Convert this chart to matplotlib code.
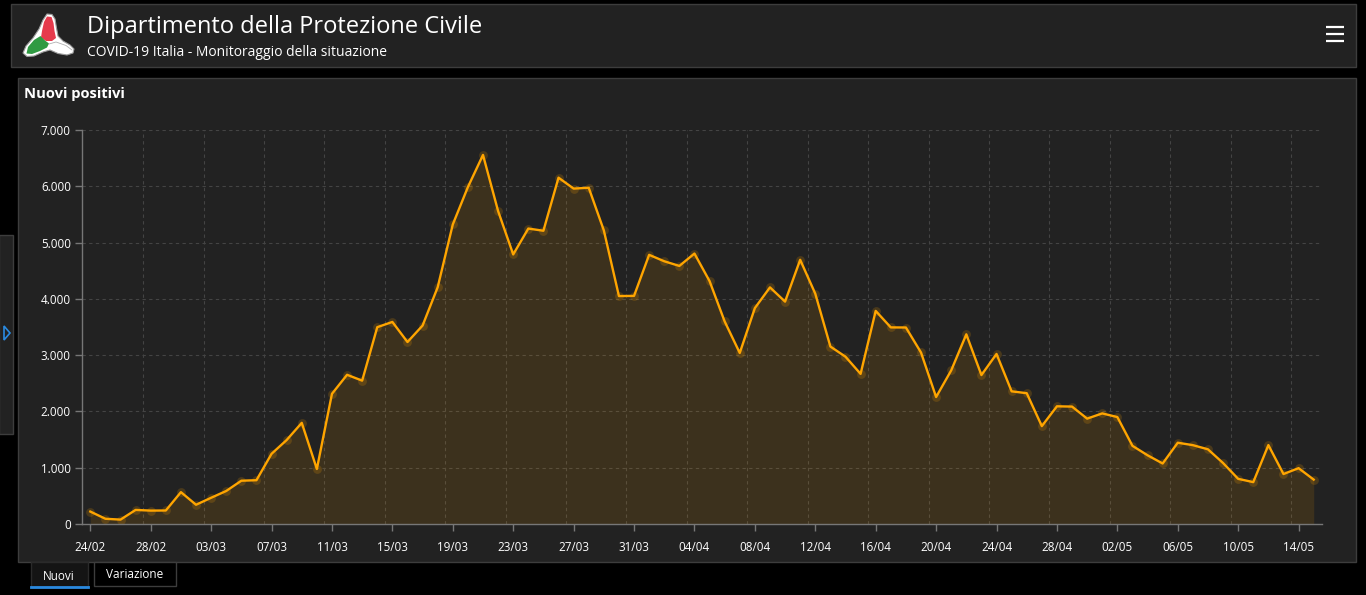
import matplotlib
matplotlib.use("Agg")
import matplotlib.pyplot as plt
from matplotlib.patches import Rectangle, Polygon
from matplotlib.ticker import FuncFormatter
import numpy as np
import datetime as dt

plt.rcParams['font.family'] = ['Open Sans', 'DejaVu Sans']

# ---------------- data ----------------
start_date = dt.date(2020, 2, 24)
nuovi_positivi = [
    221, 93, 78, 250, 238, 240, 566, 342, 466, 587, 769, 778, 1247, 1492, 1797, 977,
    2313, 2651, 2547, 3497, 3590, 3233, 3526, 4207, 5322, 5986, 6557, 5560, 4789, 5249,
    5210, 6153, 5959, 5974, 5217, 4050, 4053, 4782, 4668, 4585, 4805, 4316, 3599, 3039,
    3836, 4204, 3951, 4694, 4092, 3153, 2972, 2667, 3786, 3493, 3491, 3047, 2256, 2729,
    3370, 2646, 3021, 2357, 2324, 1739, 2091, 2086, 1872, 1965, 1900, 1389, 1221, 1075,
    1444, 1401, 1327, 1083, 802, 744, 1402, 888, 992, 789,
]
y_ticks = [0, 1000, 2000, 3000, 4000, 5000, 6000, 7000]
title = "Dipartimento della Protezione Civile"
subtitle = "COVID-19 Italia - Monitoraggio della situazione"
chart_title = "Nuovi positivi"
tab_labels = ["Nuovi", "Variazione"]

days = np.arange(len(nuovi_positivi))
dates = [start_date + dt.timedelta(days=int(d)) for d in days]
x_tick_pos = days[::4]
x_tick_labels = [dates[i].strftime("%d/%m") for i in x_tick_pos]

W, H = 1366, 595
fig = plt.figure(figsize=(W / 100, H / 100), dpi=100, facecolor="black")

# ---------------- background / page chrome ----------------
bg = fig.add_axes([0, 0, 1, 1])
bg.set_xlim(0, W)
bg.set_ylim(H, 0)
bg.axis("off")
bg.set_facecolor("black")

panel_fc = "#222222"
panel_ec = "#3d3d3d"
bg.add_patch(Rectangle((10.5, 3.5), 1345, 63, facecolor=panel_fc, edgecolor=panel_ec, lw=1))
bg.add_patch(Rectangle((17.5, 77.5), 1338, 484, facecolor=panel_fc, edgecolor=panel_ec, lw=1))
# left drawer tab
bg.add_patch(Rectangle((-1, 234.5), 14, 199, facecolor=panel_fc, edgecolor=panel_ec, lw=1))
bg.add_patch(Polygon([(4, 326), (10, 333), (4, 340)], closed=True, fill=False,
                     edgecolor="#2a8ae0", lw=1.2))

# logo (three-lobed emblem: red top, green lower-left, white lower-right)
outline = [(47, 14), (52, 14.5), (55, 19), (56.5, 28), (58, 36), (63, 41), (70, 45),
           (74, 49), (73, 53), (67, 55), (58, 53.5), (50, 50), (43, 52), (34, 56),
           (27, 56.5), (23, 53), (26, 46), (33, 38), (39, 29), (43, 20)]
bg.add_patch(Polygon(outline, closed=True, facecolor="white", edgecolor="#9a9a9a", lw=0.8))
red = [(47, 16.5), (51.5, 17), (53.5, 23), (54.5, 31), (56, 38), (52, 41), (46, 41),
       (41, 37.5), (42, 31), (44, 22)]
bg.add_patch(Polygon(red, closed=True, facecolor="#e63a4c", edgecolor="none"))
green = [(40.5, 36), (45, 40.5), (49, 43.5), (47, 47.5), (40, 51), (32, 54), (26.5, 53.5),
         (28, 47), (34, 40)]
bg.add_patch(Polygon(green, closed=True, facecolor="#2f9a42", edgecolor="none"))
bg.plot([49, 56, 66, 72], [44, 42, 45.5, 50], color="#b0b0b0", lw=0.6)

bg.text(87, 33, title, color="white", fontsize=17, va="baseline", ha="left")
bg.text(87, 56, subtitle, color="white", fontsize=10, va="baseline", ha="left")
bg.text(24, 98, chart_title, color="white", fontsize=10.6, fontweight="bold",
        va="baseline", ha="left")

# hamburger
for yy in (27, 34, 41):
    bg.plot([1326, 1344], [yy, yy], color="white", lw=1.6, solid_capstyle="butt")

# bottom tabs
bg.add_patch(Rectangle((30.5, 562), 57, 25, facecolor="#141414", edgecolor="#2a2a2a", lw=1))
bg.plot([30.5, 87.5], [587, 587], color="#2a8ae0", lw=2)
bg.text(59, 576, tab_labels[0], color="white", fontsize=8.5, ha="center", va="center")
bg.add_patch(Rectangle((93.5, 562), 82, 24, facecolor="black", edgecolor="#3d3d3d", lw=1))
bg.text(134.5, 575, tab_labels[1], color="white", fontsize=8.5, ha="center", va="center")

# ---------------- chart ----------------
left, right, top, bottom = 82, 1322, 130, 524
ax = fig.add_axes([left / W, 1 - bottom / H, (right - left) / W, (bottom - top) / H])
ax.set_facecolor("none")

line_color = "#ffa500"
ax.fill_between(days, nuovi_positivi, 0, color=line_color, alpha=0.12, lw=0)
ax.plot(days, nuovi_positivi, color=line_color, lw=1.7, zorder=3)
ax.scatter(days, nuovi_positivi, s=40, color=line_color, alpha=0.18, lw=0, zorder=2)

ax.set_xlim(-0.55, len(days) - 0.45)
ax.set_ylim(0, 7000)

ax.set_yticks(y_ticks)
ax.yaxis.set_major_formatter(FuncFormatter(lambda v, p: f"{int(v):,}".replace(",", ".")))
ax.set_xticks(x_tick_pos)
ax.set_xticklabels(x_tick_labels)

grid_kw = dict(color="#444444", lw=0.8, ls=(0, (3, 3)), zorder=0)
for yv in y_ticks[1:]:
    ax.axhline(yv, **grid_kw)
for xv in x_tick_pos[1:]:
    ax.axvline(xv - 0.5, **grid_kw)

for s in ("top", "right"):
    ax.spines[s].set_visible(False)
for s in ("left", "bottom"):
    ax.spines[s].set_color("#777777")
    ax.spines[s].set_linewidth(1)

ax.tick_params(axis="both", colors="#777777", labelcolor="white", labelsize=8.4,
               length=5, width=1, direction="out")
ax.tick_params(axis="x", pad=7)
ax.tick_params(axis="y", pad=3)

fig.savefig("out.png", dpi=100, facecolor="black")
